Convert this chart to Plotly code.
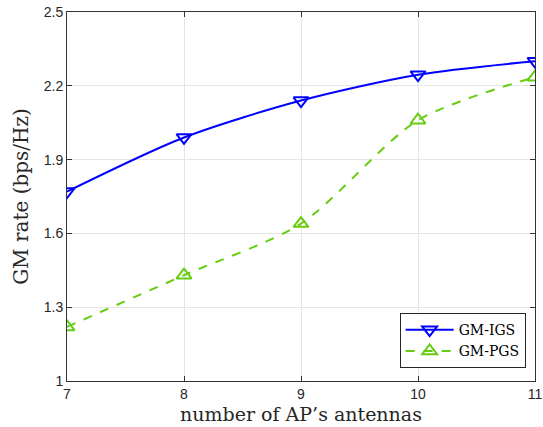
import plotly.graph_objects as go

antennas = [7, 8, 9, 10, 11]
gm_igs = [1.77, 1.99, 2.14, 2.245, 2.30]
gm_pgs = [1.22, 1.43, 1.64, 2.06, 2.235]
y_ticks = [1, 1.3, 1.6, 1.9, 2.2, 2.5]
y_tick_text = ["1", "1.3", "1.6", "1.9", "2.2", "2.5"]

blue = "#0000ff"
green = "#66cc11"
serif = "DejaVu Serif, Liberation Serif, serif"

fig = go.Figure()
fig.add_trace(go.Scatter(
    x=antennas, y=gm_igs, name="GM-IGS", mode="lines+markers",
    line=dict(color=blue, width=2, shape="spline", smoothing=0.8),
    marker=dict(symbol="triangle-down-open", size=13, color=blue, line=dict(width=2, color=blue)),
))
fig.add_trace(go.Scatter(
    x=antennas, y=gm_pgs, name="GM-PGS", mode="lines+markers",
    line=dict(color=green, width=2, dash="dash", shape="spline", smoothing=0.8),
    marker=dict(symbol="triangle-up-open", size=13, color=green, line=dict(width=2, color=green)),
))

axis_common = dict(
    showline=True, linecolor="#333333", linewidth=1, mirror="ticks",
    ticks="inside", ticklen=5, tickcolor="#333333",
    showgrid=True, gridcolor="#e5e5e5", gridwidth=1, zeroline=False,
    tickfont=dict(family="Liberation Sans, Arial", size=14, color="#262626"),
    automargin=False,
)

fig.update_layout(
    width=543, height=427,
    margin=dict(l=67, r=8, t=12, b=46),
    paper_bgcolor="white", plot_bgcolor="white",
    xaxis=dict(range=[7, 11], tickvals=antennas, **axis_common,
               title=dict(text="number of AP’s antennas", font=dict(family=serif, size=19, color="#262626"), standoff=6)),
    yaxis=dict(range=[1, 2.5], tickvals=y_ticks, ticktext=y_tick_text, **axis_common,
               title=dict(text="GM rate (bps/Hz)", font=dict(family=serif, size=20, color="#262626"), standoff=9)),
    legend=dict(x=0.98, y=0.035, xanchor="right", yanchor="bottom",
                bgcolor="white", bordercolor="#262626", borderwidth=1,
                font=dict(family=serif, size=14, color="black"),
                tracegroupgap=0, itemwidth=48),
    showlegend=True,
)

fig.write_html("out.html", post_script="document.body.style.margin='0';",
               config={"displayModeBar": False})
